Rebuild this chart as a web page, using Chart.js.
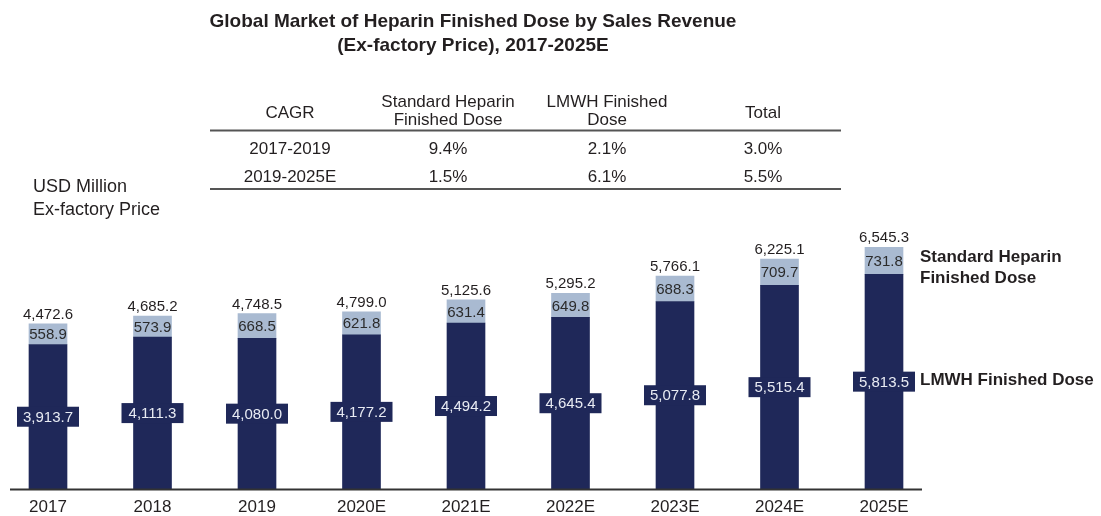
<!DOCTYPE html>
<html>
<head>
<meta charset="utf-8">
<script src="https://cdn.jsdelivr.net/npm/chart.js@4.4.0/dist/chart.umd.min.js"></script>
<style>
  html, body { margin: 0; padding: 0; background: #fff; }
  #chart { display: block; }
</style>
</head>
<body>
<canvas id="chart" width="1101" height="516"></canvas>
<script>
'use strict';
const years = ['2017', '2018', '2019', '2020E', '2021E', '2022E', '2023E', '2024E', '2025E'];
const lmwh = [3913.7, 4111.3, 4080.0, 4177.2, 4494.2, 4645.4, 5077.8, 5515.4, 5813.5];
const standard = [558.9, 573.9, 668.5, 621.8, 631.4, 649.8, 688.3, 709.7, 731.8];
const totals = [4472.6, 4685.2, 4748.5, 4799.0, 5125.6, 5295.2, 5766.1, 6225.1, 6545.3];

const cagrPeriods = ['2017-2019', '2019-2025E'];
const cagrStandard = ['9.4%', '1.5%'];
const cagrLmwh = ['2.1%', '6.1%'];
const cagrTotal = ['3.0%', '5.5%'];

const NAVY = '#1f2859';
const LIGHT = '#a9bad1';
const INK = '#231f20';
const FONT = "'Liberation Sans', Arial, sans-serif";

const fmt = v => v.toLocaleString('en-US', { minimumFractionDigits: 1, maximumFractionDigits: 1 });

// labels, table, axis line etc
const decorations = {
  id: 'decorations',
  afterDatasetsDraw(chart) {
    const ctx = chart.ctx;
    const low = chart.getDatasetMeta(0).data;
    const high = chart.getDatasetMeta(1).data;
    ctx.save();
    ctx.textAlign = 'center';
    ctx.font = '15px ' + FONT;
    low.forEach((bar, i) => {
      const mid = (bar.y + bar.base) / 2;
      ctx.fillStyle = NAVY;
      ctx.fillRect(bar.x - 31, mid - 10, 62, 20);
      ctx.fillStyle = '#e8ebf3';
      ctx.textBaseline = 'middle';
      ctx.fillText(fmt(lmwh[i]), bar.x, mid + 1);

      const top = high[i];
      ctx.fillStyle = '#2b2b2b';
      ctx.fillText(fmt(standard[i]), top.x, (top.y + top.base) / 2 + 1);

      ctx.fillStyle = INK;
      ctx.textBaseline = 'alphabetic';
      ctx.fillText(fmt(totals[i]), top.x, top.y - 5);
    });

    // series names next to the last bar
    const lastLow = low[low.length - 1];
    const lastHigh = high[high.length - 1];
    const hiMid = (lastHigh.y + lastHigh.base) / 2;
    const loMid = (lastLow.y + lastLow.base) / 2;
    ctx.textAlign = 'left';
    ctx.font = 'bold 17px ' + FONT;
    ctx.fillText('Standard Heparin', 920, hiMid + 1);
    ctx.fillText('Finished Dose', 920, hiMid + 22);
    ctx.fillText('LMWH Finished Dose', 920, loMid + 3);

    // baseline
    ctx.strokeStyle = '#333333';
    ctx.lineWidth = 2;
    ctx.beginPath();
    ctx.moveTo(10, chart.chartArea.bottom + 0.5);
    ctx.lineTo(922, chart.chartArea.bottom + 0.5);
    ctx.stroke();

    // title
    ctx.textAlign = 'center';
    ctx.font = 'bold 19px ' + FONT;
    ctx.fillText('Global Market of Heparin Finished Dose by Sales Revenue', 473, 27);
    ctx.fillText('(Ex-factory Price), 2017-2025E', 473, 51);

    // unit
    ctx.textAlign = 'left';
    ctx.font = '18px ' + FONT;
    ctx.fillText('USD Million', 33, 192);
    ctx.fillText('Ex-factory Price', 33, 215);

    // CAGR table
    const cols = [290, 448, 607, 763];
    ctx.textAlign = 'center';
    ctx.font = '17px ' + FONT;
    ctx.fillText('CAGR', cols[0], 118);
    ctx.fillText('Standard Heparin', cols[1], 107);
    ctx.fillText('Finished Dose', cols[1], 125);
    ctx.fillText('LMWH Finished', cols[2], 107);
    ctx.fillText('Dose', cols[2], 125);
    ctx.fillText('Total', cols[3], 118);
    cagrPeriods.forEach((p, r) => {
      const y = 154 + r * 27.5;
      ctx.fillText(p, cols[0], y);
      ctx.fillText(cagrStandard[r], cols[1], y);
      ctx.fillText(cagrLmwh[r], cols[2], y);
      ctx.fillText(cagrTotal[r], cols[3], y);
    });
    ctx.strokeStyle = '#555555';
    ctx.lineWidth = 2;
    [130.5, 189].forEach(y => {
      ctx.beginPath();
      ctx.moveTo(210, y);
      ctx.lineTo(841, y);
      ctx.stroke();
    });
    ctx.restore();
  }
};

new Chart(document.getElementById('chart'), {
  type: 'bar',
  data: {
    labels: years,
    datasets: [
      { label: 'LMWH Finished Dose', data: lmwh, backgroundColor: NAVY, clip: false },
      { label: 'Standard Heparin Finished Dose', data: standard, backgroundColor: LIGHT, clip: false }
    ]
  },
  options: {
    responsive: false,
    animation: false,
    layout: { padding: { left: 48, right: 217, top: 220, bottom: 0 } },
    plugins: {
      legend: { display: false },
      title: { display: false },
      tooltip: { enabled: false }
    },
    scales: {
      x: {
        stacked: true,
        offset: false,
        grid: { display: false },
        border: { display: false },
        ticks: { color: INK, font: { family: FONT, size: 17 }, padding: 0, maxRotation: 0, autoSkip: false },
        afterFit(scale) { scale.height = 27; }
      },
      y: {
        stacked: true,
        display: false,
        min: 0,
        max: 7284
      }
    },
    datasets: { bar: { barThickness: 38 } }
  },
  plugins: [decorations]
});
</script>
</body>
</html>
